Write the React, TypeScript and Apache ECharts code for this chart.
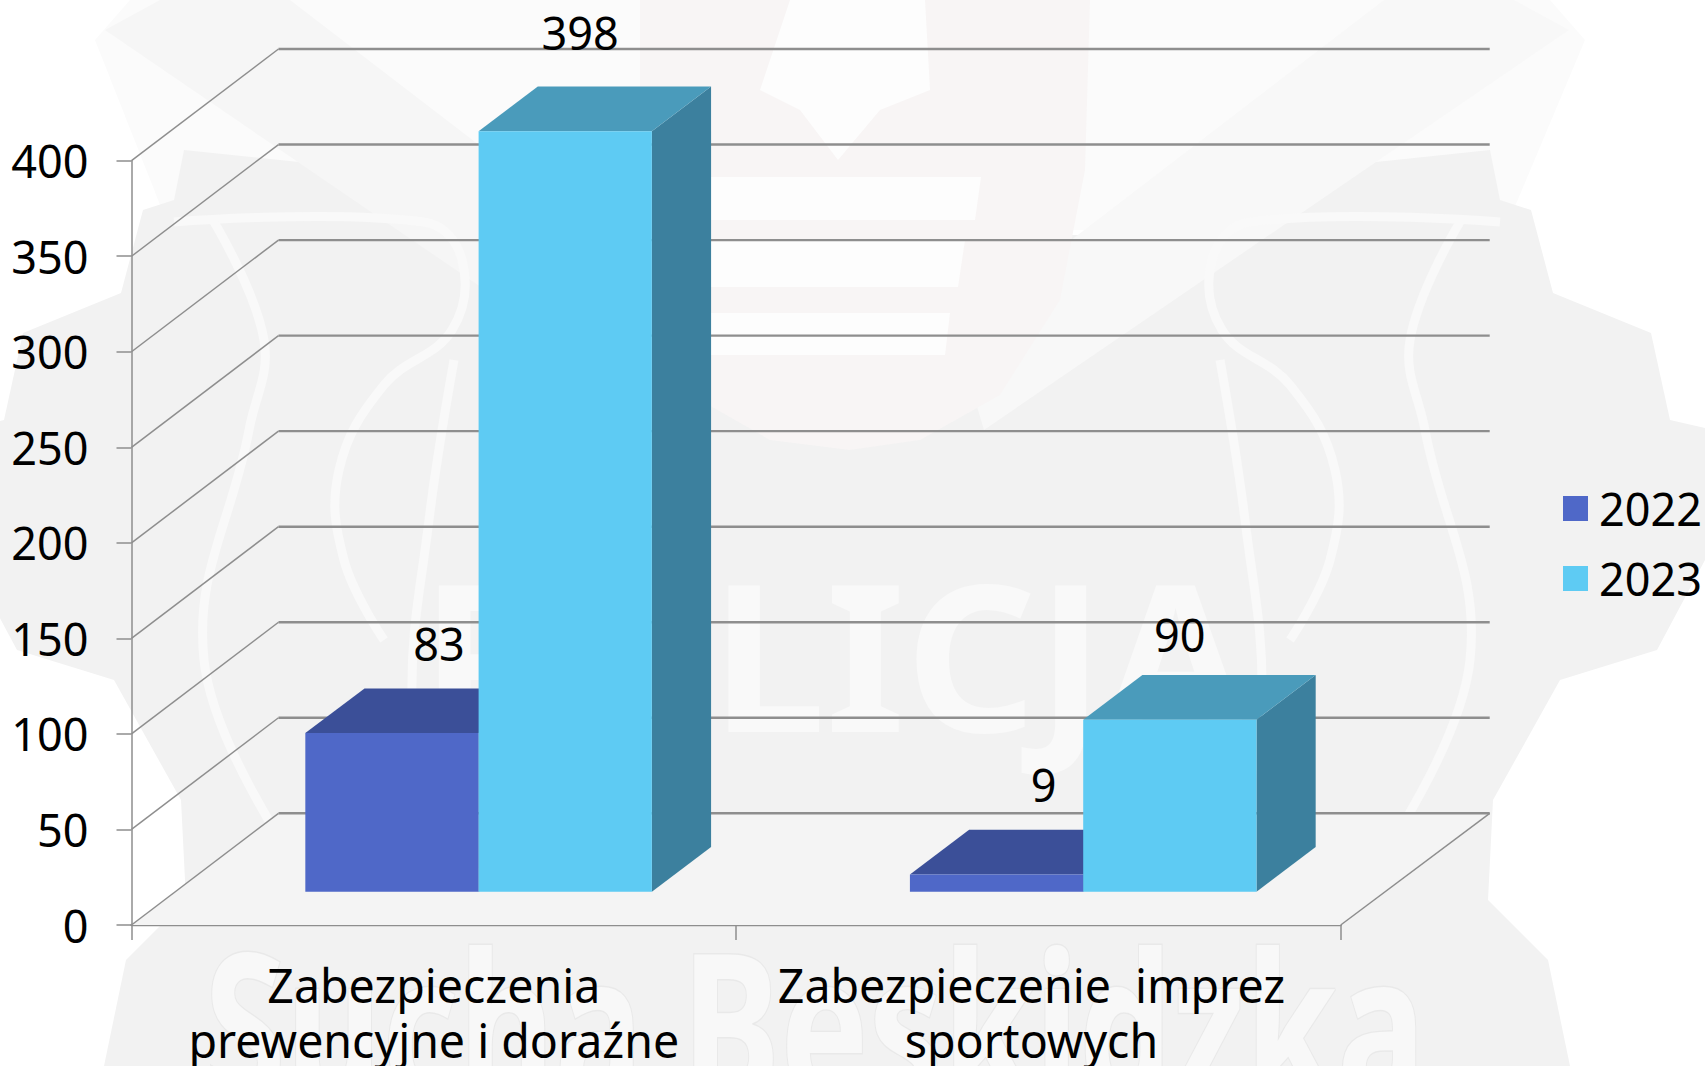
import React, { useEffect, useRef } from "react";
import * as echarts from "echarts";

const categories = ["Zabezpieczenia\nprewencyjne i doraźne", "Zabezpieczenie  imprez\nsportowych"];
const seriesNames = ["2022", "2023"];
const values2022 = [83, 9];
const values2023 = [398, 90];
const yTicks = [0, 50, 100, 150, 200, 250, 300, 350, 400];

const FONT = "'Noto Sans', sans-serif";
const FS = 45;
const CAT_FS = 46.5;
const INK = "#000000";
const GRIDLINE = "#8e8e8e";
const WALL_DX = 147;
const WALL_DY = 111.7;
const WALL_END_DX = 149;
const BAR_DX = 59.2;
const BAR_DY = 44.7;
const BASE_DX = 44.8;
const BASE_DY = 33.3;
const BAR_FRACTION = 0.2866;
const palettes = [
  { front: "#4f68c8", top: "#3b4f98", side: "#34477f" },
  { front: "#5ecbf3", top: "#4a9bbb", side: "#3c809e" },
];
const labelNudge = [
  [[47, -90], [47, -90]],
  [[15, -99], [10, -85]],
];

function renderWall(params: any, api: any) {
  const v = api.value(0);
  const cs = params.coordSys;
  const y = api.coord([0, v])[1];
  const xL = cs.x;
  const xR = cs.x + cs.width;
  const diag = { stroke: GRIDLINE, lineWidth: 1.5, fill: "none" };
  const horiz = { stroke: GRIDLINE, lineWidth: 2.4, fill: "none" };
  const children: any[] = [];
  if (v === 0) {
    children.push({
      type: "polygon",
      shape: { points: [[xL, y], [xL + WALL_DX, y - WALL_DY], [xR + WALL_END_DX, y - WALL_DY], [xR, y]] },
      style: { fill: "#f4f4f4" },
    });
    children.push({
      type: "line",
      shape: { x1: xR, y1: y, x2: xR + WALL_END_DX, y2: y - WALL_DY },
      style: diag,
    });
  }
  children.push({
    type: "line",
    shape: { x1: xL, y1: y, x2: xL + WALL_DX, y2: y - WALL_DY },
    style: diag,
  });
  children.push({
    type: "line",
    shape: { x1: xL + WALL_DX, y1: y - WALL_DY, x2: xR + WALL_END_DX, y2: y - WALL_DY },
    style: horiz,
  });
  return { type: "group", children };
}

function makeRenderBar(seriesIndex: number) {
  return (_params: any, api: any) => {
    const cat = api.value(0);
    const val = api.value(1);
    const c = api.coord([cat, val]);
    const c0 = api.coord([cat, 0]);
    const w = api.size([1, 0])[0] * BAR_FRACTION;
    const pal = palettes[seriesIndex];
    const left = c[0] + BASE_DX + (seriesIndex - 1) * w;
    const right = left + w;
    const base = c0[1] - BASE_DY;
    const top = base - (c0[1] - c[1]);
    const nudge = labelNudge[seriesIndex][cat];
    return {
      type: "group",
      children: [
        {
          type: "polygon",
          shape: { points: [[right, base], [right + BAR_DX, base - BAR_DY], [right + BAR_DX, top - BAR_DY], [right, top]] },
          style: { fill: pal.side },
        },
        {
          type: "polygon",
          shape: { points: [[left, top], [left + BAR_DX, top - BAR_DY], [right + BAR_DX, top - BAR_DY], [right, top]] },
          style: { fill: pal.top },
        },
        {
          type: "rect",
          shape: { x: left, y: top, width: w, height: base - top },
          style: { fill: pal.front },
        },
        {
          type: "text",
          style: {
            text: String(val),
            x: left + w / 2 + nudge[0],
            y: top + nudge[1],
            align: "center",
            verticalAlign: "middle",
            fontSize: FS,
            fontFamily: FONT,
            fill: INK,
          },
        },
      ],
    };
  };
}

const mirror = (pts: number[][]) => pts.map(([x, y]) => [1674 - x, y]);
const bodyRight = [
  [837, 170], [1085, 235], [1300, 170], [1490, 150], [1500, 200], [1531, 210], [1553, 293], [1651, 333],
  [1670, 420], [1705, 428], [1705, 560], [1657, 650], [1560, 680], [1493, 800], [1488, 900], [1548, 960],
  [1570, 1066], [837, 1066],
];
const bandA = [[105, 30], [160, 0], [290, 0], [720, 330], [690, 430]];
const arcA = [[1500, 222], [1250, 222], [1212, 260], [1222, 330], [1290, 385], [1335, 470], [1330, 560], [1290, 640]];
const arcB = [[1220, 360], [1245, 520], [1262, 700], [1240, 820]];
const arcC = [[1460, 222], [1410, 340], [1425, 430], [1470, 660], [1380, 860]];

function watermark() {
  const g: any[] = [];
  const poly = (points: number[][], fill: string) => ({ type: "polygon", silent: true, shape: { points }, style: { fill } });
  const lineOf = (points: number[][], lineWidth = 9) => ({
    type: "polyline",
    silent: true,
    shape: { points, smooth: 0.4 },
    style: { stroke: "#f9f9f9", lineWidth, fill: "none" },
  });
  g.push(poly([[95, 40], [130, 0], [1550, 0], [1585, 40], [1505, 230], [170, 230]], "#fbfbfb"));
  g.push(poly([...mirror(bodyRight).reverse().slice(0, -1), ...bodyRight.slice(1)], "#f2f2f2"));
  g.push(poly(bandA, "#f6f6f6"));
  g.push(poly(mirror(bandA), "#f8f8f8"));
  g.push(
    poly(
      [[640, 0], [1090, 0], [1085, 170], [1060, 300], [1000, 395], [920, 440], [850, 450], [770, 440], [700, 400], [660, 320], [640, 200]],
      "#f8f5f5",
    ),
  );
  g.push(poly([[700, 177], [981, 177], [975, 220], [700, 220]], "#fdfdfd"));
  g.push(poly([[700, 240], [965, 240], [958, 287], [700, 287]], "#fdfdfd"));
  g.push(poly([[700, 313], [950, 313], [945, 355], [700, 355]], "#fdfdfd"));
  g.push(poly([[790, 0], [925, 0], [930, 90], [880, 110], [838, 160], [800, 110], [760, 90]], "#fdfdfd"));
  for (const a of [arcA, arcB, arcC]) {
    g.push(lineOf(a));
    g.push(lineOf(mirror(a)));
  }
  g.push({
    type: "text",
    silent: true,
    x: 834,
    y: 652,
    style: {
      text: "POLICJA",
      align: "center",
      verticalAlign: "middle",
      fontSize: 205,
      fontWeight: "bold",
      fontFamily: "'Noto Sans', sans-serif",
      fill: "#f9f9f9",
    },
  });
  g.push({
    type: "text",
    silent: true,
    x: 815,
    y: 1022,
    scaleY: 1.4,
    style: {
      text: "Sucha Beskidzka",
      align: "center",
      verticalAlign: "middle",
      fontSize: 148,
      fontWeight: "bold",
      fontFamily: "'Noto Sans', sans-serif",
      fill: "#f8f8f8",
      stroke: "#e9e9e9",
      lineWidth: 2,
    },
  });
  return g.map((e) => ({ ...e, z: -10 }));
}

export default function App() {
  const ref = useRef<HTMLDivElement>(null);
  useEffect(() => {
    const chart = echarts.init(ref.current!, undefined, { renderer: "svg" });
    chart.setOption({
      animation: false,
      backgroundColor: "#ffffff",
      graphic: { elements: watermark() },
      grid: { left: 131.5, top: 160.7, width: 1209.2, height: 764.3, containLabel: false, outerBoundsMode: "none" },
      xAxis: {
        type: "category",
        data: categories,
        axisLine: { lineStyle: { color: GRIDLINE, width: 2.4 } },
        axisTick: { show: true, length: 15, lineStyle: { color: GRIDLINE, width: 1.5 } },
        axisLabel: {
          interval: 0,
          margin: 32,
          formatter: (v: string, i: number) =>
            v.split("\n").map((line) => `{${i === 1 ? "b" : "a"}|${line}}`).join("\n"),
          rich: {
            a: { fontSize: CAT_FS, lineHeight: 55, fontFamily: FONT, color: INK },
            b: { fontSize: CAT_FS, lineHeight: 55, fontFamily: FONT, color: INK, padding: [0, 14, 0, 0] },
          },
        },
      },
      yAxis: {
        type: "value",
        min: 0,
        max: 400,
        interval: 50,
        splitLine: { show: false },
        axisLine: { show: true, lineStyle: { color: GRIDLINE, width: 1.5 } },
        axisTick: { show: true, length: 15, lineStyle: { color: GRIDLINE, width: 1.5 } },
        axisLabel: { margin: 43, fontSize: FS, fontFamily: FONT, color: INK },
      },
      legend: {
        data: seriesNames,
        orient: "vertical",
        left: 1558,
        top: 481,
        icon: "rect",
        itemWidth: 25,
        itemHeight: 25,
        itemGap: 25,
        textStyle: { fontSize: FS, fontFamily: FONT, color: INK, padding: [0, 0, 0, 6] },
      },
      series: [
        {
          type: "custom",
          name: "wall",
          silent: true,
          renderItem: renderWall,
          data: yTicks.map((v) => [v]),
          encode: { y: 0 },
        },
        {
          type: "custom",
          name: seriesNames[0],
          silent: true,
          renderItem: makeRenderBar(0),
          itemStyle: { color: palettes[0].front },
          data: values2022.map((v, i) => [i, v]),
          encode: { x: 0, y: 1 },
        },
        {
          type: "custom",
          name: seriesNames[1],
          silent: true,
          renderItem: makeRenderBar(1),
          itemStyle: { color: palettes[1].front },
          data: values2023.map((v, i) => [i, v]),
          encode: { x: 0, y: 1 },
        },
      ],
    });
    return () => chart.dispose();
  }, []);
  return <div ref={ref} style={{ position: "fixed", left: 0, top: 0, width: 1705, height: 1066 }} />;
}
